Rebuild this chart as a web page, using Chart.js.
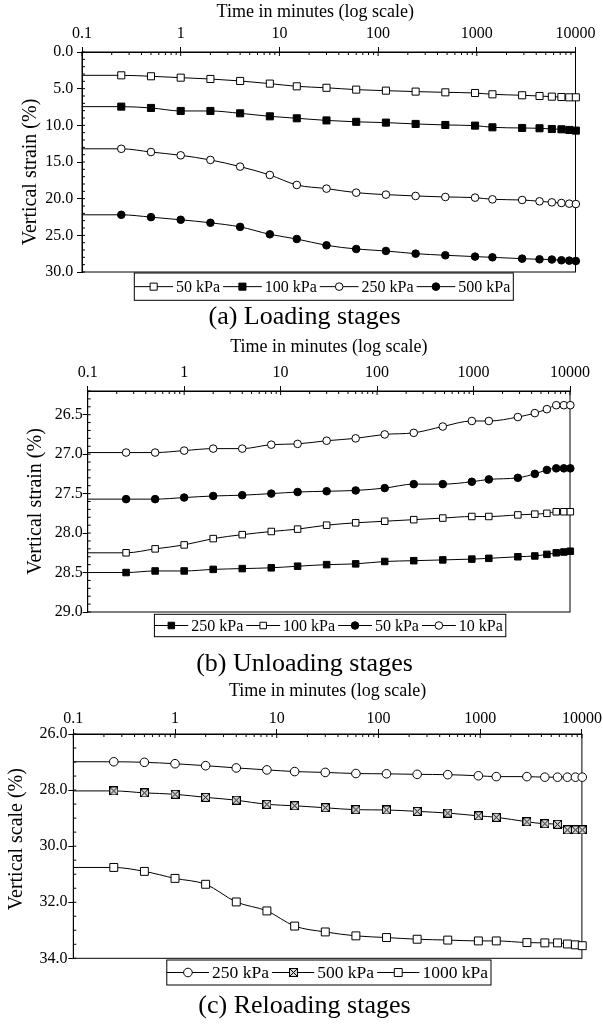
<!DOCTYPE html>
<html>
<head>
<meta charset="utf-8">
<script src="https://cdn.jsdelivr.net/npm/chart.js@4.4.1/dist/chart.umd.min.js"></script>
<style>
  body { margin: 0; background: #fff; width: 603px; height: 1030px; position: relative; overflow: hidden; font-family: "Liberation Serif", serif; }
  .panel { position: absolute; left: 0; width: 603px; }
  .caption { position: absolute; left: 0; width: 609px; text-align: center; font-size: 26px; line-height: 26px; color: #000; }
</style>
</head>
<body>
<div class="panel" style="top:0;height:305px"><canvas id="chartA"></canvas></div>
<div class="caption" style="top:303px">(a) Loading stages</div>
<div class="panel" style="top:335px;height:305px"><canvas id="chartB"></canvas></div>
<div class="caption" style="top:650px">(b) Unloading stages</div>
<div class="panel" style="top:675px;height:315px"><canvas id="chartC"></canvas></div>
<div class="caption" style="top:992px">(c) Reloading stages</div>
<script>
// time of each reading (minutes), same for every stage
const times = [0.25, 0.5, 1, 2, 4, 8, 15, 30, 60, 120, 240, 480, 960, 1440, 2880, 4320, 5760, 7200, 8640, 10080];
const xTicks = [0.1, 1, 10, 100, 1000, 10000];

// (a) loading stages, vertical strain %
const load50 = [3.18, 3.31, 3.5, 3.68, 3.95, 4.31, 4.68, 4.88, 5.13, 5.27, 5.4, 5.5, 5.59, 5.77, 5.9, 6.0, 6.09, 6.14, 6.18, 6.18];
const load100 = [7.45, 7.63, 8.04, 8.04, 8.36, 8.77, 9.04, 9.33, 9.52, 9.63, 9.81, 9.95, 10.04, 10.27, 10.36, 10.4, 10.5, 10.54, 10.63, 10.72];
const load250 = [13.2, 13.64, 14.09, 14.72, 15.63, 16.77, 18.13, 18.63, 19.18, 19.45, 19.63, 19.77, 19.86, 20.09, 20.18, 20.36, 20.5, 20.59, 20.68, 20.73];
const load500 = [22.2, 22.52, 22.88, 23.29, 23.85, 24.86, 25.5, 26.36, 26.86, 27.13, 27.5, 27.72, 27.9, 28.0, 28.18, 28.27, 28.3, 28.4, 28.45, 28.5];
const yTicksA = [0, 5, 10, 15, 20, 25, 30];

// (b) unloading stages
const unload250 = [28.5, 28.48, 28.48, 28.46, 28.45, 28.44, 28.42, 28.4, 28.39, 28.36, 28.35, 28.34, 28.33, 28.32, 28.3, 28.29, 28.27, 28.25, 28.24, 28.23];
const unload100 = [28.25, 28.2, 28.15, 28.07, 28.02, 27.98, 27.95, 27.9, 27.87, 27.85, 27.83, 27.81, 27.79, 27.79, 27.77, 27.76, 27.75, 27.73, 27.73, 27.73];
const unload50 = [27.57, 27.57, 27.55, 27.53, 27.52, 27.5, 27.48, 27.47, 27.46, 27.43, 27.38, 27.38, 27.35, 27.32, 27.3, 27.25, 27.2, 27.18, 27.18, 27.18];
const unload10 = [26.98, 26.98, 26.955, 26.93, 26.93, 26.88, 26.87, 26.83, 26.8, 26.75, 26.73, 26.65, 26.58, 26.58, 26.53, 26.48, 26.43, 26.38, 26.38, 26.38];
const yTicksB = [26.5, 27.0, 27.5, 28.0, 28.5, 29.0];

// (c) reloading stages
const reload250 = [26.99, 27.01, 27.06, 27.13, 27.21, 27.28, 27.34, 27.37, 27.41, 27.42, 27.44, 27.45, 27.49, 27.52, 27.52, 27.54, 27.54, 27.54, 27.54, 27.54];
const reload500 = [28.03, 28.1, 28.15, 28.26, 28.36, 28.51, 28.56, 28.63, 28.7, 28.71, 28.76, 28.82, 28.92, 28.97, 29.13, 29.2, 29.22, 29.42, 29.42, 29.42];
const reload1000 = [30.76, 30.9, 31.15, 31.36, 31.99, 32.31, 32.85, 33.06, 33.2, 33.26, 33.32, 33.35, 33.38, 33.38, 33.44, 33.45, 33.45, 33.49, 33.52, 33.55];
const yTicksC = [26, 28, 30, 32, 34];

const FONT = '"Liberation Serif", "Times New Roman", serif';
const X_MIN = 0.1, X_MAX = 10000;
const X_TITLE = 'Time in minutes (log scale)';

// square with an X in it, used for the 500 kPa reloading curve
function crossedSquare(size) {
  const c = document.createElement('canvas');
  c.width = c.height = size;
  const g = c.getContext('2d');
  g.fillStyle = '#d8d8d8';
  g.fillRect(0, 0, size, size);
  g.strokeStyle = '#000';
  g.lineWidth = 1;
  g.strokeRect(0.5, 0.5, size - 1, size - 1);
  g.beginPath();
  g.moveTo(1, 1); g.lineTo(size - 1, size - 1);
  g.moveTo(size - 1, 1); g.lineTo(1, size - 1);
  g.stroke();
  return c;
}

function series(label, values, style, filled, radius) {
  // line starts at the left edge with the first reading
  const pts = [{ x: X_MIN, y: values[0] }].concat(times.map((t, i) => ({ x: t, y: values[i] })));
  return {
    label: label,
    data: pts,
    borderColor: '#000',
    borderWidth: 1,
    pointStyle: style,
    pointBackgroundColor: filled ? '#000' : '#fff',
    pointBorderColor: '#000',
    pointBorderWidth: 1,
    pointRadius: ctx => ctx.dataIndex === 0 ? 0 : radius,
    pointHoverRadius: ctx => ctx.dataIndex === 0 ? 0 : radius,
    cubicInterpolationMode: 'monotone',
    clip: false,
    markerRadius: radius,
    markerFilled: filled
  };
}

function drawMarker(ctx, d, x, y) {
  const st = d.pointStyle, r = d.markerRadius;
  if (typeof st === 'object') {
    ctx.drawImage(st, Math.round(x - st.width / 2), Math.round(y - st.height / 2));
    return;
  }
  ctx.beginPath();
  if (st === 'rect') {
    const s = r * Math.SQRT1_2;
    ctx.rect(x - s, y - s, 2 * s, 2 * s);
  } else {
    ctx.arc(x, y, r, 0, Math.PI * 2);
  }
  ctx.fillStyle = d.markerFilled ? '#000' : '#fff';
  ctx.fill();
  ctx.stroke();
}

// legend in a bordered box: line - marker - line, then label
const boxLegend = {
  id: 'boxLegend',
  afterDraw(chart, args, o) {
    const ctx = chart.ctx;
    const items = chart.data.datasets;
    ctx.save();
    ctx.font = o.size + 'px ' + FONT;
    const widths = items.map(d => ctx.measureText(d.label).width);
    const pad = 3;
    const boxW = o.right - o.left;
    const sample = (boxW - widths.reduce((a, b) => a + b, 0) - items.length * 2 * pad) / items.length;
    ctx.strokeStyle = '#000';
    ctx.lineWidth = 1;
    ctx.strokeRect(o.left, o.top, boxW, o.bottom - o.top);
    const cy = (o.top + o.bottom) / 2;
    let x = o.left;
    items.forEach((d, i) => {
      ctx.beginPath();
      ctx.moveTo(x, cy);
      ctx.lineTo(x + sample, cy);
      ctx.stroke();
      drawMarker(ctx, d, x + sample / 2, cy);
      x += sample + pad;
      ctx.fillStyle = '#000';
      ctx.textBaseline = 'middle';
      ctx.fillText(d.label, x, cy + 1);
      x += widths[i] + pad;
    });
    ctx.restore();
  }
};

// plot frame plus the small inward ticks
const axisFrame = {
  id: 'axisFrame',
  beforeDatasetsDraw(chart, args, o) {
    const { ctx, chartArea: a, scales } = chart;
    const x = scales.x, y = scales.y;
    ctx.save();
    ctx.strokeStyle = '#000';
    ctx.lineWidth = 1;
    ctx.strokeRect(a.left, a.top, a.right - a.left, a.bottom - a.top);
    ctx.beginPath();
    for (let e = -1; e < 4; e++) {
      const base = Math.pow(10, e);
      for (let k = 2; k <= 9; k++) {
        const px = x.getPixelForValue(base * k);
        ctx.moveTo(px, a.top);
        ctx.lineTo(px, a.top + 3);
      }
    }
    xTicks.forEach(v => {
      const px = x.getPixelForValue(v);
      ctx.moveTo(px, a.top);
      ctx.lineTo(px, a.top + 4);
    });
    const n = Math.round((y.max - y.min) / o.yMinor);
    for (let i = 0; i <= n; i++) {
      const py = y.getPixelForValue(y.min + i * o.yMinor);
      ctx.moveTo(a.left, py);
      ctx.lineTo(a.left + 3, py);
    }
    ctx.stroke();
    ctx.restore();
  }
};

function makeChart(id, p) {
  return new Chart(document.getElementById(id), {
    type: 'line',
    data: { datasets: p.datasets },
    options: {
      responsive: true,
      maintainAspectRatio: false,
      animation: false,
      devicePixelRatio: 1,
      events: [],
      layout: { padding: { left: 0, top: 0, right: p.padRight, bottom: p.padBottom } },
      scales: {
        x: {
          type: 'logarithmic',
          position: 'top',
          min: X_MIN,
          max: X_MAX,
          afterFit: s => { s.height = p.xHeight; },
          afterBuildTicks: s => { s.ticks = xTicks.map(v => ({ value: v })); },
          ticks: {
            autoSkip: false,
            maxRotation: 0,
            color: '#000',
            font: { family: FONT, size: 16 },
            padding: p.xTickPad,
            callback: v => String(v)
          },
          grid: { drawOnChartArea: false, tickLength: 5, color: '#000' },
          border: { color: '#000' },
          title: {
            display: true,
            text: p.xTitle,
            color: '#000',
            font: { family: FONT, size: 18 },
            padding: { top: p.xTitlePad, bottom: 0 }
          }
        },
        y: {
          type: 'linear',
          reverse: true,
          min: p.yMin,
          max: p.yMax,
          afterFit: s => { s.width = p.yWidth; },
          afterBuildTicks: s => { s.ticks = p.yTicks.map(v => ({ value: v })); },
          ticks: {
            color: '#000',
            font: { family: FONT, size: 16 },
            padding: p.yTickPad,
            callback: v => Number(v).toFixed(1)
          },
          grid: { drawOnChartArea: false, tickLength: 5, color: '#000' },
          border: { color: '#000' },
          title: {
            display: true,
            text: p.yTitle,
            color: '#000',
            font: { family: FONT, size: 20 },
            padding: { top: p.yTitlePad, bottom: 0 }
          }
        }
      },
      plugins: {
        legend: { display: false },
        tooltip: { enabled: false },
        axisFrame: { yMinor: p.yMinor },
        boxLegend: p.legend
      }
    },
    plugins: [axisFrame, boxLegend]
  });
}

makeChart('chartA', {
  datasets: [
    series('50 kPa', load50, 'rect', false, 5),
    series('100 kPa', load100, 'rect', true, 5),
    series('250 kPa', load250, 'circle', false, 3.8),
    series('500 kPa', load500, 'circle', true, 3.8)
  ],
  padRight: 27.5, padBottom: 33, xHeight: 52, yWidth: 82,
  xTickPad: 3.6, xTitlePad: 1.5, yTickPad: 3.7, yTitlePad: 18.5,
  yMin: 0, yMax: 30, yTicks: yTicksA, yMinor: 1,
  xTitle: X_TITLE + '\u2003\u2002',
  yTitle: 'Vertical strain (%)\u2003',
  legend: { left: 134.3, right: 513.3, top: 273, bottom: 300.3, size: 16 }
});

makeChart('chartB', {
  datasets: [
    series('250 kPa', unload250, 'rect', true, 4.6),
    series('100 kPa', unload100, 'rect', false, 4.6),
    series('50 kPa', unload50, 'circle', true, 3.8),
    series('10 kPa', unload10, 'circle', false, 3.8)
  ],
  padRight: 33, padBottom: 28, xHeight: 56, yWidth: 87.7,
  xTickPad: 3.4, xTitlePad: 1.2, yTickPad: 0, yTitlePad: 24,
  yMin: 26.2, yMax: 29.0, yTicks: yTicksB, yMinor: 0.1,
  xTitle: X_TITLE,
  yTitle: 'Vertical strain (%)',
  legend: { left: 154.4, right: 505.8, top: 279.3, bottom: 301.7, size: 16 }
});

makeChart('chartC', {
  datasets: [
    series('250 kPa', reload250, 'circle', false, 4.3),
    series('500 kPa', reload500, crossedSquare(9), false, 4.5),
    series('1000 kPa', reload1000, 'rect', false, 5.6)
  ],
  padRight: 19.7, padBottom: 31.7, xHeight: 59, yWidth: 73.3,
  xTickPad: 1.1, xTitlePad: 5.9, yTickPad: 0.8, yTitlePad: 4.5,
  yMin: 26, yMax: 34, yTicks: yTicksC, yMinor: 0.5,
  xTitle: X_TITLE,
  yTitle: '\u2002\u2009Vertical scale (%)',
  legend: { left: 166.8, right: 491, top: 285, bottom: 310, size: 17.5 }
});
</script>
</body>
</html>
